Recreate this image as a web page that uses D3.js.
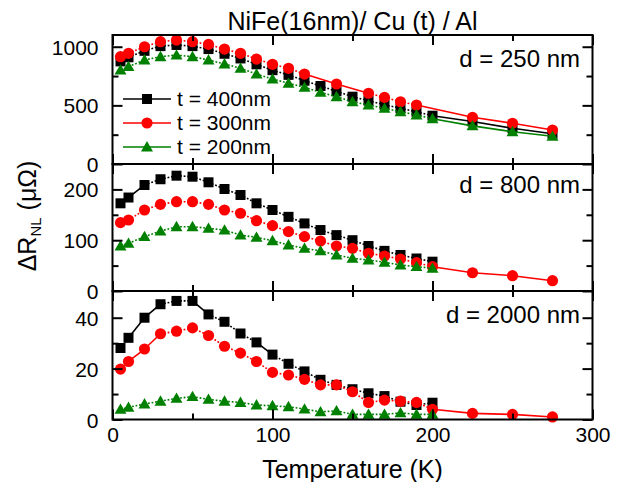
<!DOCTYPE html>
<html>
<head>
<meta charset="utf-8">
<script src="https://cdn.jsdelivr.net/npm/d3@7"></script>
<style>
  body { margin: 0; background: #fff; }
  text { font-family: "Liberation Sans", Arial, sans-serif; fill: #000; }
</style>
</head>
<body>
<div id="chart"></div>
<script>
// temperatures (K), shared by all curves
const temps = [5, 10, 20, 30, 40, 50, 60, 70, 80, 90, 100, 110, 120, 130, 140, 150, 160, 170, 180, 190, 200, 225, 250, 275];

// d = 250 nm
const black250 = [875, 910, 965, 1005, 1015, 1005, 980, 940, 900, 850, 800, 760, 710, 665, 620, 574, 540, 505, 475, 445, 412, 362, 305, 258];
const red250 = [915, 944, 1000, 1043, 1057, 1043, 1020, 980, 944, 895, 850, 816, 767, null, 682, null, 603, 568, 531, 503, null, 398, 347, 290];
const green250 = [801, 830, 887, 915, 929, 915, 887, 853, 816, 767, 725, 688, 654, 611, 574, 531, 503, 475, 446, 418, 386, 325, 275, 236];

// d = 800 nm
const black800 = [172.6, 184, 208.7, 220, 227, 225, 214, 200.8, 189, 172.6, 159.4, 146, 133, 120, 110, 100, 88.6, 79, 70.9, 64, 57.7];
const red800 = [134.5, 139.8, 159.4, 170.6, 175.8, 175.8, 170.6, 159.4, 153, 138.4, 128.6, 116.8, 107, 98.4, 88.6, 84, 74.2, 68.9, 63, 55.8, 47.9, 36, 30.1, 20.3];
const green800 = [88.6, 93.9, 107, 118, 126.6, 126.6, 123.4, 120, 110, 105.7, 99, 90.5, 84, 79, 70.9, 64.4, 61, 56.5, 51.2, 47.9, 44.7];

// d = 2000 nm
const black2000 = [28.1, 32.1, 40, 45.3, 46.6, 46.6, 41.3, 38.4, 33.8, 30.3, 25.5, 21.9, 18.9, 15.6, 13.6, 11.9, 10.3, 9.2, 7, 5.7, 6.6];
const red2000 = [19.8, 22.8, 27.7, 33.7, 34.7, 36, 33, 28.8, 26.1, 22.8, 18.5, 17.5, 15.8, 13.6, 13.6, 10.9, 6.7, 7.6, 7.2, 6.7, 4, 2.4, 2, 1];
const green2000 = [4, 4.8, 6.1, 7.2, 8.3, 9, 7.9, 7.2, 6.7, 5.7, 5.4, 5, 4.1, 3, 3.4, 2, 2, 2, 2.6, 2, 2];

const seriesNames = ["t = 400nm", "t = 300nm", "t = 200nm"];
const panelLabels = ["d = 250 nm", "d = 800 nm", "d = 2000 nm"];
const xTicks = [0, 100, 200, 300];
const xMinor = [50, 150, 250];

const width = 618, height = 482;
const left = 112.5, right = 592.5;

const colors = ["#000000", "#ff0000", "#008000"];
const shapes = [d3.symbolSquare, d3.symbolCircle, d3.symbolTriangle];
const sizes = [100, 98, 62];

const panels = [
  { top: 35, bottom: 164, max: 1100, ticks: [0, 500, 1000], minor: [250, 750], data: [black250, red250, green250] },
  { top: 164, bottom: 291, max: 250, ticks: [0, 100, 200], minor: [50, 150], data: [black800, red800, green800] },
  { top: 291, bottom: 419.5, max: 50.5, ticks: [0, 20, 40], minor: [10, 30], data: [black2000, red2000, green2000] }
];

const svg = d3.select("#chart")
  .append("svg")
  .attr("width", width)
  .attr("height", height);

const x = d3.scaleLinear().domain([0, 300]).range([left, right]);

panels.forEach(function (p, i) {
  const y = d3.scaleLinear().domain([0, p.max]).range([p.bottom, p.top]);
  const g = svg.append("g");

  // curves, black first so red and green sit on top
  p.data.forEach(function (vals, s) {
    const pts = temps.map((t, k) => [t, vals[k]])
      .filter(d => d[1] != null && d[1] !== undefined);

    // short segments look dotted in the original, long ones solid
    for (let k = 0; k < pts.length - 1; k++) {
      const x1 = x(pts[k][0]), y1 = y(pts[k][1]);
      const x2 = x(pts[k + 1][0]), y2 = y(pts[k + 1][1]);
      const len = Math.hypot(x2 - x1, y2 - y1);
      g.append("line")
        .attr("x1", x1).attr("y1", y1)
        .attr("x2", x2).attr("y2", y2)
        .attr("stroke", colors[s])
        .attr("stroke-width", 1.6)
        .attr("stroke-dasharray", len < 20 ? "1.8,1.8" : null);
    }

    g.selectAll(".m" + s)
      .data(pts)
      .join("path")
      .attr("class", "m" + s)
      .attr("d", d3.symbol(shapes[s], sizes[s]))
      .attr("transform", d => `translate(${x(d[0])},${y(d[1]) + (s == 2 ? 1 : 0)})`)
      .attr("fill", colors[s]);
  });

  // ticks on all four sides, pointing inward
  const yl = g.append("g").attr("transform", `translate(${left},0)`)
    .call(d3.axisLeft(y).tickValues(p.ticks).tickSize(-10).tickPadding(14).tickFormat(d3.format("d")));
  g.append("g").attr("transform", `translate(${left},0)`)
    .call(d3.axisLeft(y).tickValues(p.minor).tickSize(-6).tickFormat(""));
  g.append("g").attr("transform", `translate(${right},0)`)
    .call(d3.axisRight(y).tickValues(p.ticks).tickSize(-10).tickFormat(""));
  g.append("g").attr("transform", `translate(${right},0)`)
    .call(d3.axisRight(y).tickValues(p.minor).tickSize(-6).tickFormat(""));

  g.append("g").attr("transform", `translate(0,${p.bottom})`)
    .call(d3.axisBottom(x).tickValues(xTicks).tickSize(-10).tickFormat(""));
  g.append("g").attr("transform", `translate(0,${p.bottom})`)
    .call(d3.axisBottom(x).tickValues(xMinor).tickSize(-6).tickFormat(""));
  g.append("g").attr("transform", `translate(0,${p.top})`)
    .call(d3.axisTop(x).tickValues(xTicks).tickSize(-10).tickFormat(""));
  g.append("g").attr("transform", `translate(0,${p.top})`)
    .call(d3.axisTop(x).tickValues(xMinor).tickSize(-6).tickFormat(""));

  yl.selectAll("text").attr("dy", "0.36em");

  // frame
  g.append("rect")
    .attr("x", left).attr("y", p.top)
    .attr("width", right - left).attr("height", p.bottom - p.top)
    .attr("fill", "none")
    .attr("stroke", "#000")
    .attr("stroke-width", 2);

  g.append("text")
    .attr("x", 580)
    .attr("y", [67, 193, 323][i])
    .attr("text-anchor", "end")
    .style("font-size", "24px")
    .text(panelLabels[i]);

  // bottom axis labels only on the last panel
  if (i == panels.length - 1) {
    g.append("g").attr("transform", `translate(0,${p.bottom})`)
      .call(d3.axisBottom(x).tickValues(xTicks).tickSize(0).tickPadding(8).tickFormat(d3.format("d")))
      .call(a => a.select(".domain").remove())
      .selectAll("text").attr("dy", "0.71em");
  }
});

svg.selectAll(".domain").remove();
svg.selectAll(".tick line").attr("stroke-width", 2);
svg.selectAll(".tick text")
  .style("font-size", "21px")
  .style("font-family", '"Liberation Sans", Arial, sans-serif')
  .attr("fill", "#000");

// legend in the top panel
const legend = svg.append("g");
seriesNames.forEach(function (name, s) {
  const ly = 99 + s * 24;
  legend.append("line")
    .attr("x1", 123).attr("x2", 171)
    .attr("y1", ly).attr("y2", ly)
    .attr("stroke", colors[s])
    .attr("stroke-width", 1.6);
  legend.append("path")
    .attr("d", d3.symbol(shapes[s], sizes[s]))
    .attr("transform", `translate(147,${ly + (s == 2 ? 1 : 0)})`)
    .attr("fill", colors[s]);
  legend.append("text")
    .attr("x", 177)
    .attr("y", ly + 7)
    .style("font-size", "21px")
    .text(name);
});

// titles
svg.append("text")
  .attr("x", (left + right) / 2)
  .attr("y", 30)
  .attr("text-anchor", "middle")
  .style("font-size", "25px")
  .text("NiFe(16nm)/ Cu (t) / Al");

svg.append("text")
  .attr("x", (left + right) / 2)
  .attr("y", 478)
  .attr("text-anchor", "middle")
  .style("font-size", "25px")
  .text("Temperature (K)");

const ylab = svg.append("text")
  .attr("transform", "translate(36,216) rotate(-90)")
  .attr("text-anchor", "middle")
  .style("font-size", "25px");
ylab.append("tspan").text("\u0394R");
ylab.append("tspan").attr("dy", 5).style("font-size", "15px").text("NL");
ylab.append("tspan").attr("dy", -5).text(" (\u03bc\u03a9)");
</script>
</body>
</html>
